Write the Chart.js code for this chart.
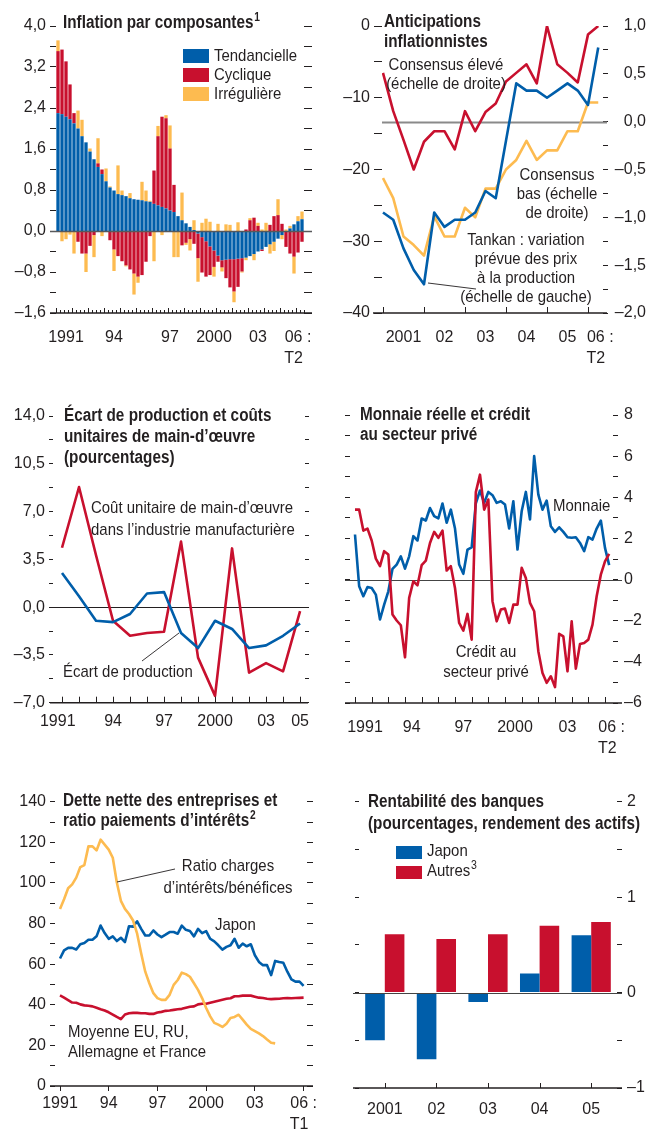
<!DOCTYPE html>
<html>
<head>
<meta charset="utf-8">
<script src="https://cdn.jsdelivr.net/npm/chart.js@4.4.1/dist/chart.umd.min.js"></script>
<style>
  body { margin: 0; background: #fff; }
  #page { position: relative; width: 646px; height: 1129px; overflow: hidden; color: #231f20;
          font-family: "Liberation Sans", Arial, sans-serif; }
  canvas { position: absolute; }
  .t { position: absolute; white-space: nowrap; font-size: 17px; line-height: 21px; z-index: 2;
       transform: scaleX(0.88); transform-origin: 0 0; }
  .h { position: absolute; white-space: nowrap; font-size: 18px; line-height: 21px; font-weight: bold; z-index: 2;
       transform: scaleX(0.85); transform-origin: 0 0; }
  .t.c { text-align: center; transform: translateX(-50%) scaleX(0.88); transform-origin: 50% 0; }
  .sup { font-size: 12px; position: relative; top: -7px; margin-left: 1px; }
  .box { position: absolute; width: 26px; height: 14px; z-index: 2; }
  svg { position: absolute; left: 0; top: 0; z-index: 3; }
</style>
</head>
<body>
<div id="page">
  <canvas id="c1" width="323" height="375" style="left:0;top:0"></canvas>
  <canvas id="c2" width="323" height="375" style="left:323px;top:0"></canvas>
  <canvas id="c3" width="323" height="395" style="left:0;top:360px"></canvas>
  <canvas id="c4" width="323" height="395" style="left:323px;top:360px"></canvas>
  <canvas id="c5" width="323" height="389" style="left:0;top:740px"></canvas>
  <canvas id="c6" width="323" height="389" style="left:323px;top:740px"></canvas>

  <!-- panel 1 -->
  <div class="h" style="left:63px;top:12px">Inflation par composantes<span class="sup">1</span></div>
  <div class="box" style="left:183px;top:49px;background:#005eaa"></div>
  <div class="box" style="left:183px;top:68px;background:#c8102e"></div>
  <div class="box" style="left:183px;top:87px;background:#fdbb50"></div>
  <div class="t" style="left:214px;top:45px">Tendancielle</div>
  <div class="t" style="left:214px;top:64px">Cyclique</div>
  <div class="t" style="left:214px;top:83px">Irrégulière</div>

  <!-- panel 2 -->
  <div class="h" style="left:384px;top:11px;line-height:20px">Anticipations<br>inflationnistes</div>
  <div class="t c" style="left:446px;top:55px;line-height:19.3px">Consensus élevé<br>(échelle de droite)</div>
  <div class="t c" style="left:557px;top:165px;line-height:19.2px">Consensus<br>bas (échelle<br>de droite)</div>
  <div class="t c" style="left:526px;top:230px;line-height:19px">Tankan : variation<br>prévue des prix<br>à la production<br>(échelle de gauche)</div>

  <!-- panel 3 -->
  <div class="h" style="left:64px;top:405px">Écart de production et coûts<br>unitaires de main-d’œuvre<br>(pourcentages)</div>
  <div class="t" style="left:91px;top:497px;line-height:21.7px">Coût unitaire de main-d’œuvre<br>dans l’industrie manufacturière</div>
  <div class="t" style="left:63px;top:661px">Écart de production</div>

  <!-- panel 4 -->
  <div class="h" style="left:360px;top:404px;line-height:20px">Monnaie réelle et crédit<br>au secteur privé</div>
  <div class="t" style="left:553px;top:495px">Monnaie</div>
  <div class="t c" style="left:486px;top:642px;line-height:20px">Crédit au<br>secteur privé</div>

  <!-- panel 5 -->
  <div class="h" style="left:63px;top:790px;line-height:20px">Dette nette des entreprises et<br>ratio paiements d’intérêts<span class="sup">2</span></div>
  <div class="t c" style="left:228px;top:855px;line-height:21.6px">Ratio charges<br>d’intérêts/bénéfices</div>
  <div class="t" style="left:215px;top:914px">Japon</div>
  <div class="t" style="left:68px;top:1022px;line-height:20px">Moyenne EU, RU,<br>Allemagne et France</div>

  <!-- panel 6 -->
  <div class="h" style="left:368px;top:790px;line-height:22px">Rentabilité des banques<br>(pourcentages, rendement des actifs)</div>
  <div class="box" style="left:396px;top:846px;height:13px;background:#005eaa"></div>
  <div class="box" style="left:396px;top:866px;height:13px;background:#c8102e"></div>
  <div class="t" style="left:427px;top:840px">Japon</div>
  <div class="t" style="left:427px;top:860px">Autres<span class="sup">3</span></div>

  <svg width="646" height="1129">
    <line x1="428" y1="283" x2="476" y2="289" stroke="#231f20" stroke-width="0.9"/>
    <line x1="142" y1="661" x2="179" y2="633" stroke="#231f20" stroke-width="0.9"/>
    <line x1="175" y1="869" x2="117" y2="882" stroke="#231f20" stroke-width="0.9"/>
  </svg>
</div>

<script>
// ---- Inflation par composantes (quarterly, 1991 T1 - 2006 T2)
const tendancielle = [2.30, 2.28, 2.23, 2.18, 2.10, 2.00, 1.85, 1.73, 1.55, 1.40,
  1.25, 1.11, 0.97, 0.85, 0.79, 0.72, 0.70, 0.68, 0.64, 0.62,
  0.61, 0.60, 0.58, 0.57, 0.53, 0.50, 0.47, 0.44, 0.40, 0.37,
  0.29, 0.21, 0.15, 0.08, 0.02, -0.05, -0.12, -0.20, -0.30, -0.38,
  -0.48, -0.57, -0.56, -0.55, -0.55, -0.54, -0.53, -0.52, -0.49, -0.45,
  -0.40, -0.36, -0.31, -0.26, -0.21, -0.15, -0.08, 0.00, 0.05, 0.13,
  0.19, 0.23];
const cyclique = [1.21, 1.26, 1.08, 0.68, 0.20, -0.21, -0.44, -0.44, -0.29, -0.08,
  0.07, 0.09, 0.00, -0.18, -0.36, -0.49, -0.59, -0.67, -0.75, -0.83,
  -0.89, -0.86, -0.60, -0.10, 0.65, 1.35, 1.76, 1.76, 1.21, 0.53,
  0.00, -0.28, -0.23, -0.16, -0.25, -0.48, -0.69, -0.69, -0.56, -0.32,
  -0.12, -0.14, -0.36, -0.55, -0.63, -0.55, -0.26, 0.03, 0.21, 0.26,
  0.10, -0.03, 0.00, 0.12, 0.29, 0.31, 0.14, -0.31, -0.44, -0.50,
  -0.42, -0.21];
const irreguliere = [0.21, -0.20, -0.16, -0.07, -0.44, 0.35, 0.32, -0.36, 0.06, -0.43,
  0.49, -0.10, 0.25, 0.02, -0.42, 0.56, 0.09, -0.02, 0.10, -0.41,
  -0.12, 0.36, 0.21, 0.02, -0.59, 0.20, -0.08, 0.06, 0.45, -0.51,
  -0.51, 0.54, -0.04, -0.22, 0.19, -0.46, 0.16, 0.24, 0.18, -0.19,
  0.14, -0.08, 0.13, 0.12, -0.21, 0.17, -0.02, -0.05, 0.04, -0.12,
  0.06, 0.03, 0.16, -0.18, -0.18, 0.31, -0.08, 0.03, 0.05, -0.33,
  0.10, 0.15];
const inflYearLabels = ['1991', '94', '97', '2000', '03', ['06 :', 'T2  ']];
const inflYearIndex = [2, 14, 28, 39, 50, 60];

// ---- Anticipations inflationnistes (quarterly, 2001 T1 - 2006 T2)
const tankan = [-26, -27, -31, -34, -36, -26, -28, -27, -27, -26, -23,
  -24, -16, -8, -9, -9, -10, -9, -8, -9, -11, -3];
const consensusHaut = [0.51, 0.11, -0.19, -0.50, -0.21, -0.10, -0.10, -0.29, 0.11, -0.10, 0.10,
  0.19, 0.42, 0.51, 0.60, 0.40, 1.00, 0.60, 0.51, 0.41, 0.91, 1.00];
const consensusBas = [-0.59, -0.80, -1.20, -1.29, -1.40, -0.99, -1.20, -1.20, -0.90, -1.00, -0.70,
  -0.70, -0.50, -0.40, -0.20, -0.40, -0.30, -0.30, -0.10, -0.10, 0.20, 0.20];
const antLabels = ['2001', '02', '03', '04', '05', ['06 :', 'T2  ']];
const antLabelPos = [2001.5, 2002.5, 2003.5, 2004.5, 2005.5, 2006.3];

// ---- Écart de production et coûts unitaires (annual, 1991-2005)
const ecartYears = [1991, 1992, 1993, 1994, 1995, 1996, 1997, 1998, 1999, 2000, 2001, 2002, 2003, 2004, 2005];
const coutUnitaire = [4.35, 8.8, 3.8, -1.0, -2.1, -1.9, -1.8, 4.8, -3.7, -6.5, 4.3, -4.8, -4.1, -4.7, -0.3];
const ecartProduction = [2.5, 0.8, -1.0, -1.1, -0.5, 1.0, 1.1, -1.9, -3.0, -1.0, -1.6, -3.0, -2.8, -2.1, -1.2];
const ecartLabels = ['1991', '94', '97', '2000', '03', '05'];
const ecartLabelPos = [1990.75, 1994, 1997, 2000, 2003, 2005];

// ---- Monnaie réelle et crédit (quarterly, 1991 T1 - 2006 T2)
const monnaie = [2.19, -0.32, -0.81, -0.36, -0.41, -0.73, -1.94, -1.22, -0.57, 0.52,
  0.73, 1.13, 0.53, 1.13, 2.11, 1.90, 2.97, 2.87, 3.48, 3.08,
  2.97, 3.70, 2.76, 3.40, 2.48, 0.73, 0.28, 1.46, 1.57, 3.70,
  4.33, 3.73, 4.26, 4.10, 3.73, 3.81, 3.65, 2.48, 3.81, 1.46,
  3.32, 4.26, 2.92, 6.00, 4.13, 3.40, 3.84, 2.59, 2.32, 2.54,
  2.32, 2.06, 2.03, 2.06, 1.78, 1.38, 2.06, 1.94, 2.48, 2.87,
  1.54, 0.70];
const credit = [3.40, 3.40, 2.38, 2.48, 1.90, 1.02, 0.65, 1.38, 1.22, -1.70,
  -1.99, -2.22, -3.78, -0.89, -0.08, -0.28, 0.70, 0.92, 1.78, 2.32,
  2.03, 2.38, 0.44, 0.65, -0.41, -2.11, -2.48, -1.67, -2.92, 4.25,
  5.10, 3.40, 3.89, -1.05, -2.03, -1.46, -1.41, -2.11, -1.22, -1.22,
  0.57, 0.08, -1.13, -1.54, -3.48, -4.54, -5.02, -4.70, -5.23, -2.64,
  -2.76, -4.46, -2.03, -4.33, -3.13, -3.08, -2.92, -2.19, -0.81, 0.24,
  0.89, 1.25];
const monLabels = ['1991', '94', '97', '2000', '03', ['06 :', 'T2  ']];
const monLabelPos = [1991.6, 1994.4, 1997.5, 2000.6, 2003.75, 2006.4];

// ---- Dette nette des entreprises (quarterly, 1991 T1 - 2006 T1)
const detteJapon = [62.8, 66.8, 68.0, 68.0, 67.2, 69.8, 70.4, 72.0, 72.0, 73.7,
  79.0, 75.3, 72.5, 73.7, 71.4, 73.0, 70.9, 78.7, 78.5, 81.1,
  77.4, 74.1, 74.1, 76.6, 74.6, 73.3, 74.5, 75.8, 75.8, 75.0,
  79.0, 76.9, 76.3, 73.7, 77.4, 75.3, 76.3, 72.5, 71.2, 69.3,
  67.2, 68.5, 69.3, 72.5, 68.1, 70.1, 68.8, 69.8, 64.4, 61.1,
  59.5, 59.5, 54.6, 61.6, 61.1, 60.7, 56.3, 52.5, 51.4, 51.4,
  49.3];
const detteMoyenne = [44.6, 43.5, 42.3, 41.1, 41.0, 40.2, 39.7, 39.5, 39.2, 38.5,
  37.8, 37.2, 36.3, 35.2, 34.0, 32.9, 35.2, 35.8, 36.0, 36.0,
  35.8, 35.8, 35.5, 35.5, 36.2, 36.5, 37.0, 37.2, 37.5, 37.8,
  38.0, 38.5, 39.0, 39.2, 40.2, 40.5, 40.5, 41.0, 41.5, 42.0,
  42.5, 43.0, 43.2, 44.2, 44.2, 44.5, 44.6, 44.5, 44.0, 43.5,
  43.3, 43.0, 42.8, 42.9, 43.0, 43.2, 43.3, 43.2, 43.3, 43.4,
  43.5];
const ratioCharges = [87.2, 92.0, 97.4, 99.3, 102.6, 107.8, 108.8, 118.0, 118.0, 116.0,
  121.3, 118.9, 116.4, 112.4, 100.2, 91.2, 87.2, 84.7, 81.5, 75.0,
  65.2, 56.3, 50.6, 45.7, 43.3, 42.4, 42.4, 44.9, 49.8, 52.2,
  55.8, 55.1, 53.8, 50.6, 47.3, 43.3, 38.4, 34.3, 31.1, 30.2,
  29.1, 30.7, 33.5, 34.0, 35.1, 32.7, 30.2, 28.1, 27.0, 25.9,
  24.6, 22.9, 21.3, 21.0];
const detteLabels = ['1991', '94', '97', '2000', '03', ['06 :', 'T1  ']];
const detteLabelPos = [1991, 1994, 1997, 2000, 2003, 2006];

// ---- Rentabilité des banques (annual)
const banqueYears = ['2001', '02', '03', '04', '05'];
const banqueJapon = [-0.50, -0.70, -0.10, 0.20, 0.60];
const banqueAutres = [0.61, 0.56, 0.61, 0.70, 0.74];

const INK = '#231f20';
const BLUE = '#005eaa', RED = '#c8102e', GOLD = '#fdbb50';

Chart.defaults.font.family = '"Liberation Sans", Arial, sans-serif';
Chart.defaults.font.size = 16;
Chart.defaults.color = INK;

// baseline, zero line and small inner tick marks
function zeroLine(chart, z) {
  const { ctx, chartArea: a, scales } = chart;
  const y = Math.round(scales[z.axis].getPixelForValue(0)) + 0.5;
  ctx.save();
  ctx.strokeStyle = z.color;
  ctx.lineWidth = z.width;
  ctx.beginPath();
  ctx.moveTo(a.left - z.ext[0], y);
  ctx.lineTo(a.right + z.ext[1], y);
  ctx.stroke();
  ctx.restore();
}
const frame = {
  id: 'frame',
  beforeDatasetsDraw(chart, args, o) {
    if (o.zero && !o.zero.top) zeroLine(chart, o.zero);
  },
  afterDatasetsDraw(chart, args, o) {
    if (o.zero && o.zero.top) zeroLine(chart, o.zero);
    const { ctx, chartArea: a, scales } = chart;
    ctx.save();
    ctx.strokeStyle = INK;
    if (o.ticks) {
      ctx.lineWidth = 1;
      o.ticks.forEach(([v, len]) => {
        const x = Math.round(scales.x.getPixelForValue(v)) + 0.5;
        ctx.beginPath();
        ctx.moveTo(x, a.bottom);
        ctx.lineTo(x, a.bottom - len);
        ctx.stroke();
      });
    }
    if (o.base) {
      ctx.lineWidth = 1.5;
      ctx.beginPath();
      ctx.moveTo(a.left - o.base[0], a.bottom);
      ctx.lineTo(a.right + o.base[1], a.bottom);
      ctx.stroke();
    }
    ctx.restore();
  }
};
Chart.register(frame);

function isMult(v, m) { return Math.abs(v / m - Math.round(v / m)) < 1e-6; }
function fmt(v, dec) {
  const r = Math.abs(v) < 1e-9 ? 0 : v;
  return r.toFixed(dec).replace('.', ',').replace('-', '–');
}

function yScale(o) {
  return {
    type: 'linear', position: o.pos, min: o.min, max: o.max, stacked: !!o.stacked,
    border: { display: false },
    grid: { drawOnChartArea: false, tickLength: o.tick, tickColor: INK, tickWidth: 1 },
    ticks: {
      stepSize: o.step, maxTicksLimit: 100, autoSkip: false, padding: o.pad || 4,
      crossAlign: o.align || 'near',
      callback: v => (o.every && isMult(v, o.every)) ? fmt(v, o.dec) : ''
    },
    afterFit: s => { s.width = o.width; }
  };
}

function xLinear(o) {
  return {
    type: 'linear', min: o.min, max: o.max,
    border: { display: false },
    grid: o.tick ? { drawOnChartArea: false, tickLength: o.tick, tickColor: INK } : { display: false },
    ticks: { autoSkip: false, maxRotation: 0, padding: o.pad, font: { lineHeight: 1.3 },
             callback: (v, i) => o.labels[i] },
    afterBuildTicks: s => { s.ticks = o.at.map(v => ({ value: v })); },
    afterFit: s => { s.height = o.height; }
  };
}

function options(top, scales, frameOpts, extra) {
  return Object.assign({
    responsive: false, animation: false, devicePixelRatio: 1,
    layout: { padding: { top: top, left: 0, right: 0, bottom: 0 } },
    plugins: { legend: { display: false }, tooltip: { enabled: false }, frame: frameOpts },
    scales: scales
  }, extra || {});
}

function line(values, xs, color, axis) {
  return {
    data: values.map((v, i) => ({ x: xs[i], y: v })),
    borderColor: color, borderWidth: 2.6, pointRadius: 0,
    borderJoinStyle: 'round', yAxisID: axis || 'y'
  };
}

// tick positions for the small marks drawn on the base line
const inflTicks = [];
for (let i = 0; i <= tendancielle.length; i++) inflTicks.push([i - 0.5, i % 4 === 0 ? 5 : 3]);
const inflQuarters = tendancielle.map((_, i) => (1991 + Math.floor(i / 4)) + ' T' + (i % 4 + 1));

// 1. Inflation par composantes
new Chart(document.getElementById('c1'), {
  type: 'bar',
  data: {
    labels: inflQuarters,
    datasets: [
      { label: 'Tendancielle', data: tendancielle, backgroundColor: BLUE },
      { label: 'Cyclique', data: cyclique, backgroundColor: RED },
      { label: 'Irrégulière', data: irreguliere, backgroundColor: GOLD }
    ]
  },
  options: options(26, {
    x: {
      stacked: true, border: { display: false }, grid: { display: false },
      ticks: { autoSkip: false, maxRotation: 0, padding: 6, font: { lineHeight: 1.3 },
        callback: (v, i) => { const k = inflYearIndex.indexOf(i); return k < 0 ? '' : inflYearLabels[k]; } },
      afterFit: s => { s.height = 62; }
    },
    y: yScale({ pos: 'left', min: -1.6, max: 4.0, step: 0.4, every: 0.8, dec: 1, tick: 6, width: 56, stacked: true }),
    y2: yScale({ pos: 'right', min: -1.6, max: 4.0, step: 0.4, tick: 8, width: 19 })
  }, {
    zero: { axis: 'y', ext: [6, 8], color: '#58595b', width: 1.5, top: true },
    base: [6, 8], ticks: inflTicks
  }, { datasets: { bar: { barPercentage: 0.83, categoryPercentage: 1 } } })
});

// 2. Anticipations inflationnistes
const antX = tankan.map((_, i) => 2001 + i / 4);
new Chart(document.getElementById('c2'), {
  type: 'line',
  data: {
    datasets: [
      line(tankan, antX, BLUE, 'y'),
      line(consensusHaut, antX, RED, 'y2'),
      line(consensusBas, antX, GOLD, 'y2')
    ]
  },
  options: options(26, {
    x: xLinear({ min: 2000.976, max: 2006.366, at: antLabelPos, labels: antLabels, pad: 6, height: 62 }),
    y: yScale({ pos: 'left', min: -40, max: 0, step: 5, every: 10, dec: 0, tick: 8, width: 59 }),
    y2: yScale({ pos: 'right', min: -2, max: 1, step: 0.25, every: 0.5, dec: 1, tick: 5, width: 43, align: 'far' })
  }, {
    zero: { axis: 'y2', ext: [0, 4], color: '#8a8a8a', width: 1.8 },
    base: [9, 4], ticks: [2001, 2002, 2003, 2004, 2005, 2006].map(v => [v, 6])
  })
});

// 3. Écart de production et coûts unitaires
new Chart(document.getElementById('c3'), {
  type: 'line',
  data: {
    datasets: [
      line(ecartProduction, ecartYears, BLUE, 'y'),
      line(coutUnitaire, ecartYears, RED, 'y')
    ]
  },
  options: options(56, {
    x: xLinear({ min: 1990.47, max: 2005.29, at: ecartLabelPos, labels: ecartLabels, pad: 0, height: 52.3 }),
    y: yScale({ pos: 'left', min: -7, max: 14, step: 1.75, every: 3.5, dec: 1, tick: 4, width: 53 }),
    y2: yScale({ pos: 'right', min: -7, max: 14, step: 1.75, tick: 4, width: 18 })
  }, {
    zero: { axis: 'y', ext: [0, 3], color: INK, width: 1 },
    base: [3, 3], ticks: ecartYears.map(v => [v, 6])
  })
});

// 4. Monnaie réelle et crédit au secteur privé
const monX = monnaie.map((_, i) => 1991 + i / 4);
const monYearTicks = [];
for (let y = 1991; y <= 2006; y++) monYearTicks.push([y, 6]);
new Chart(document.getElementById('c4'), {
  type: 'line',
  data: {
    datasets: [
      line(credit, monX, RED, 'y2'),
      line(monnaie, monX, BLUE, 'y2')
    ]
  },
  options: options(55, {
    x: xLinear({ min: 1990.7, max: 2006.48, at: monLabelPos, labels: monLabels, pad: 6, height: 52 }),
    y: yScale({ pos: 'left', min: -6, max: 8, step: 1, tick: 5, width: 27 }),
    y2: yScale({ pos: 'right', min: -6, max: 8, step: 1, every: 2, dec: 0, tick: 5, width: 33, pad: 6 })
  }, {
    zero: { axis: 'y2', ext: [5, 9], color: '#444', width: 1.2 },
    base: [5, 9], ticks: monYearTicks
  })
});

// 5. Dette nette des entreprises et ratio paiements d'intérêts
const detteX = detteJapon.map((_, i) => 1991 + i / 4);
new Chart(document.getElementById('c5'), {
  type: 'line',
  data: {
    datasets: [
      line(ratioCharges, detteX, GOLD, 'y'),
      line(detteJapon, detteX, BLUE, 'y'),
      line(detteMoyenne, detteX, RED, 'y')
    ]
  },
  options: options(61.7, {
    x: xLinear({ min: 1990.692, max: 2006.21, at: detteLabelPos, labels: detteLabels, pad: 2, height: 43, tick: 5 }),
    y: yScale({ pos: 'left', min: 0, max: 140, step: 10, every: 20, dec: 0, tick: 5, width: 55 }),
    y2: yScale({ pos: 'right', min: 0, max: 140, step: 10, tick: 6, width: 16 })
  }, {
    base: [5, 6]
  })
});

// 6. Rentabilité des banques
new Chart(document.getElementById('c6'), {
  type: 'bar',
  data: {
    labels: banqueYears,
    datasets: [
      { label: 'Japon', data: banqueJapon, backgroundColor: BLUE },
      { label: 'Autres', data: banqueAutres, backgroundColor: RED }
    ]
  },
  options: options(61.7, {
    x: {
      border: { display: false }, grid: { display: false },
      ticks: { autoSkip: false, maxRotation: 0, padding: 4 },
      afterFit: s => { s.height = 41; }
    },
    y: yScale({ pos: 'left', min: -1, max: 2, step: 0.5, tick: 4, width: 36 }),
    y2: yScale({ pos: 'right', min: -1, max: 2, step: 0.5, every: 1, dec: 0, tick: 5, width: 29, pad: 5 })
  }, {
    zero: { axis: 'y', ext: [6, 5], color: '#444', width: 1.2, top: true },
    base: [6, 5], ticks: banqueYears.map((_, i) => [i, 5])
  }, { datasets: { bar: { barPercentage: 1, categoryPercentage: 0.76 } } })
});
</script>
</body>
</html>
